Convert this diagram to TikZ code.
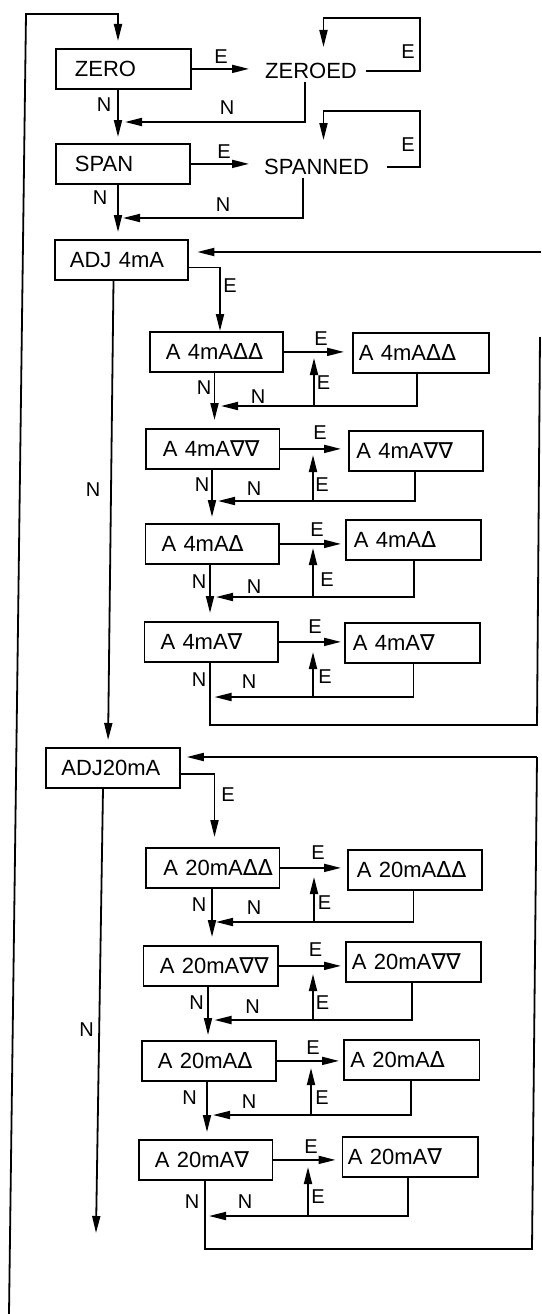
\documentclass[tikz,border=0pt]{standalone}
\usepackage{fontspec}
\setmainfont{Liberation Sans}
\newfontfamily\trifont{DejaVu Sans}
\usetikzlibrary{arrows.meta}
\newcommand\tup{{\trifont Δ}}
\newcommand\tdn{{\trifont ∇}}
\newcommand\boxtxt[2]{\noindent\hspace*{#1}\mbox{#2}}
\tikzset{
  bx/.style={draw, line width=1.8pt, minimum height=40pt, inner xsep=0pt, inner ysep=0pt,
    align=left, anchor=north west, font=\fontsize{22pt}{26pt}\selectfont},
  plain/.style={inner sep=3pt, anchor=west, font=\fontsize{22pt}{26pt}\selectfont},
  lb/.style={inner sep=0pt, font=\fontsize{20pt}{24pt}\selectfont},
  ln/.style={line width=1.8pt},
  arr/.style={line width=1.8pt, -{Triangle[length=17pt,width=8pt]}}
}
\begin{document}
\begin{tikzpicture}[x=1pt,y=-1pt]
\useasboundingbox (0,0) rectangle (541,1314);
% ---------- boxes and texts ----------
\node[bx, text width=135pt] (zero) at (55,48) {\boxtxt{19pt}{ZERO}};
\node[plain] (zeroed) at (262,71) {ZEROED};
\node[bx, text width=134pt] (span) at (55,143) {\boxtxt{19pt}{SPAN}};
\node[plain] (spanned) at (261,167) {SPANNED};
\node[bx, text width=133pt] (adj4) at (54,239) {\boxtxt{15pt}{ADJ 4mA}};

\node[bx, text width=133pt] (r1l) at (149,331) {\boxtxt{16pt}{A 4mA\tup\tup}};
\node[bx, text width=136pt] (r1r) at (352,332) {\boxtxt{6pt}{A 4mA\tup\tup}};
\node[bx, text width=133.5pt] (r2l) at (145,428) {\boxtxt{17pt}{A 4mA\tdn\tdn}};
\node[bx, text width=134pt] (r2r) at (348,430) {\boxtxt{7.5pt}{A 4mA\tdn\tdn}};
\node[bx, text width=133.4pt] (r3l) at (144.6,523) {\boxtxt{16pt}{A 4mA\tup}};
\node[bx, text width=135pt] (r3r) at (345,519) {\boxtxt{8pt}{A 4mA\tup}};
\node[bx, text width=133.4pt] (r4l) at (143.6,621) {\boxtxt{16pt}{A 4mA\tdn}};
\node[bx, text width=135pt] (r4r) at (344,622) {\boxtxt{8pt}{A 4mA\tdn}};

\node[bx, text width=134pt] (adj20) at (45,747) {\boxtxt{15.5pt}{ADJ20mA}};

\node[bx, text width=133.5pt] (s1l) at (145,847) {\boxtxt{17.5pt}{A 20mA\tup\tup}};
\node[bx, text width=134pt] (s1r) at (347,849) {\boxtxt{9pt}{A 20mA\tup\tup}};
\node[bx, text width=134.5pt] (s2l) at (142.5,945) {\boxtxt{16.5pt}{A 20mA\tdn\tdn}};
\node[bx, text width=135pt] (s2r) at (345,941) {\boxtxt{6pt}{A 20mA\tdn\tdn}};
\node[bx, text width=134pt] (s3l) at (141,1040) {\boxtxt{16pt}{A 20mA\tup}};
\node[bx, text width=135.5pt] (s3r) at (343,1039) {\boxtxt{6.5pt}{A 20mA\tup}};
\node[bx, text width=133.6pt] (s4l) at (138,1139) {\boxtxt{16pt}{A 20mA\tdn}};
\node[bx, text width=135.5pt] (s4r) at (341.5,1136) {\boxtxt{5.5pt}{A 20mA\tdn}};

% ---------- free ends ----------
\coordinate (lb) at (9,1314);
\coordinate (r4in) at (541,252);
\coordinate (r4top) at (540,337);
\coordinate (r20in) at (537,757);
\coordinate (n20end) at (96,1233);

% ---------- top part ----------
\draw[arr, shorten >=7pt] (lb) -- (26,14) -- (118,14) -- (118,0 |- zero.north);
\draw[arr, shorten >=13pt] (zero.east) -- (zero.east -| zeroed.west);
\draw[arr] ([xshift=6pt]zeroed.east) -| (420,18) -| (323.5,47);
\draw[arr] (305,0 |- zeroed.south) |- (125,122);
\draw[arr, shorten >=6pt] (118,0 |- zero.south) -- (118,0 |- span.north);
\draw[arr, shorten >=12pt] (span.east) -- (span.east -| spanned.west);
\draw[arr] ([xshift=15pt]spanned.east) -| (420,111) -| (323.5,140);
\draw[arr] (303,0 |- spanned.south) |- (123,218);
\draw[arr, shorten >=7pt] (118,0 |- span.south) -- (118,0 |- adj4.north);

\node[lb] (l1) at (221,57) {E};
\node[lb] (l2) at (408,52) {E};
\node[lb] (l3) at (227,108) {N};
\node[lb] (l4) at (104,105) {N};
\node[lb] (l5) at (224,152) {E};
\node[lb] (l6) at (408,145) {E};
\node[lb] (l7) at (223,205) {N};
\node[lb] (l8) at (100,198) {N};

% ---------- ADJ 4mA ----------
\draw[arr, shorten >=8.5pt] (r4in) -- (r4in -| adj4.east);
\draw[arr] ([yshift=-7.5pt]adj4.east) -| (220,0 |- r1l.north);
\draw[arr, shorten >=7pt] (113.5,0 |- adj4.south) -- (108,0 |- adj20.north);
\node[lb] (l9) at (230,286) {E};
\node[lb] (l10) at (93,490) {N};

% row 1
\draw[arr, shorten >=8pt] (r1l.east) -- (r1l.east -| r1r.west);
\draw[arr, shorten >=8pt] (214.5,0 |- r1l.south) -- (214.5,0 |- r2l.north);
\draw[arr] (417,0 |- r1r.south) |- (221,406);
\draw[arr] (314,406) -- (314,358);
\node[lb] (l11) at (321,339) {E};
\node[lb] (l12) at (204,388) {N};
\node[lb] (l13) at (258,397) {N};
\node[lb] (l14) at (323.5,383) {E};
% row 2
\draw[arr, shorten >=7pt] (r2l.east) -- (r2l.east -| r2r.west);
\draw[arr, shorten >=6pt] (212,0 |- r2l.south) -- (212,0 |- r3l.north);
\draw[arr] (415,0 |- r2r.south) |- (218,501);
\draw[arr] (313,501) -- (313,455);
\node[lb] (l15) at (320,433) {E};
\node[lb] (l16) at (202,485) {N};
\node[lb] (l17) at (254,489) {N};
\node[lb] (l18) at (322,485) {E};
% row 3
\draw[arr, shorten >=4pt] (r3l.east) -- (r3l.east -| r3r.west);
\draw[arr, shorten >=8pt] (210,0 |- r3l.south) -- (210,0 |- r4l.north);
\draw[arr] (414,0 |- r3r.south) |- (216,597);
\draw[arr] (313,597) -- (313,548);
\node[lb] (l19) at (317,530) {E};
\node[lb] (l20) at (199,582) {N};
\node[lb] (l21) at (254,587) {N};
\node[lb] (l22) at (327,580) {E};
% row 4
\draw[arr, shorten >=3pt] (r4l.east) -- (r4l.east -| r4r.west);
\draw[ln] (210,0 |- r4l.south) -- (210,725) -- (537,725) -- (r4top);
\draw[arr] (413.5,0 |- r4r.south) |- (214.5,697);
\draw[arr] (313,697) -- (313,652);
\node[lb] (l23) at (315,627) {E};
\node[lb] (l24) at (199,680) {N};
\node[lb] (l25) at (249,682) {N};
\node[lb] (l26) at (325,677) {E};

% ---------- ADJ20mA ----------
\draw[arr, shorten >=6pt] (r20in) -- (r20in -| adj20.east);
\draw[arr, shorten >=10pt] ([yshift=-6pt]adj20.east) -| (214.5,0 |- s1l.north);
\draw[arr] (103,0 |- adj20.south) -- (n20end);
\node[lb] (l27) at (228,795) {E};
\node[lb] (l28) at (86.5,1030) {N};

% row 1
\draw[arr, shorten >=6pt] (s1l.east) -- (s1l.east -| s1r.west);
\draw[arr, shorten >=8pt] (212,0 |- s1l.south) -- (212,0 |- s2l.north);
\draw[arr] (413.5,0 |- s1r.south) |- (216,922);
\draw[arr] (314,922) -- (314,877);
\node[lb] (l29) at (318,853) {E};
\node[lb] (l30) at (199,905) {N};
\node[lb] (l31) at (254,908) {N};
\node[lb] (l32) at (324.5,903) {E};
% row 2
\draw[arr, shorten >=4pt] (s2l.east) -- (s2l.east -| s2r.west);
\draw[arr, shorten >=5pt] (208,0 |- s2l.south) -- (208,0 |- s3l.north);
\draw[arr] (412,0 |- s2r.south) |- (214.5,1020);
\draw[arr] (313,1020) -- (313,974);
\node[lb] (l33) at (315.5,950) {E};
\node[lb] (l34) at (196.5,1003) {N};
\node[lb] (l35) at (252.5,1007) {N};
\node[lb] (l36) at (322.5,1003) {E};
% row 3
\draw[arr, shorten >=4pt] (s3l.east) -- (s3l.east -| s3r.west);
\draw[arr, shorten >=7pt] (207,0 |- s3l.south) -- (207,0 |- s4l.north);
\draw[arr] (410.7,0 |- s3r.south) |- (213,1115);
\draw[arr] (311,1115) -- (311,1068);
\node[lb] (l37) at (313,1048) {E};
\node[lb] (l38) at (189.6,1098) {N};
\node[lb] (l39) at (249,1102) {N};
\node[lb] (l40) at (322,1098) {E};
% row 4
\draw[arr, shorten >=6pt] (s4l.east) -- (s4l.east -| s4r.west);
\draw[ln] (205,0 |- s4l.south) -- (205,1249) -- (532,1249) -- (r20in);
\draw[arr] (408,0 |- s4r.south) |- (209,1216);
\draw[arr] (308,1216) -- (308,1167);
\node[lb] (l41) at (311,1147) {E};
\node[lb] (l42) at (192,1202) {N};
\node[lb] (l43) at (245,1202) {N};
\node[lb] (l44) at (318,1197) {E};
\end{tikzpicture}
\end{document}
